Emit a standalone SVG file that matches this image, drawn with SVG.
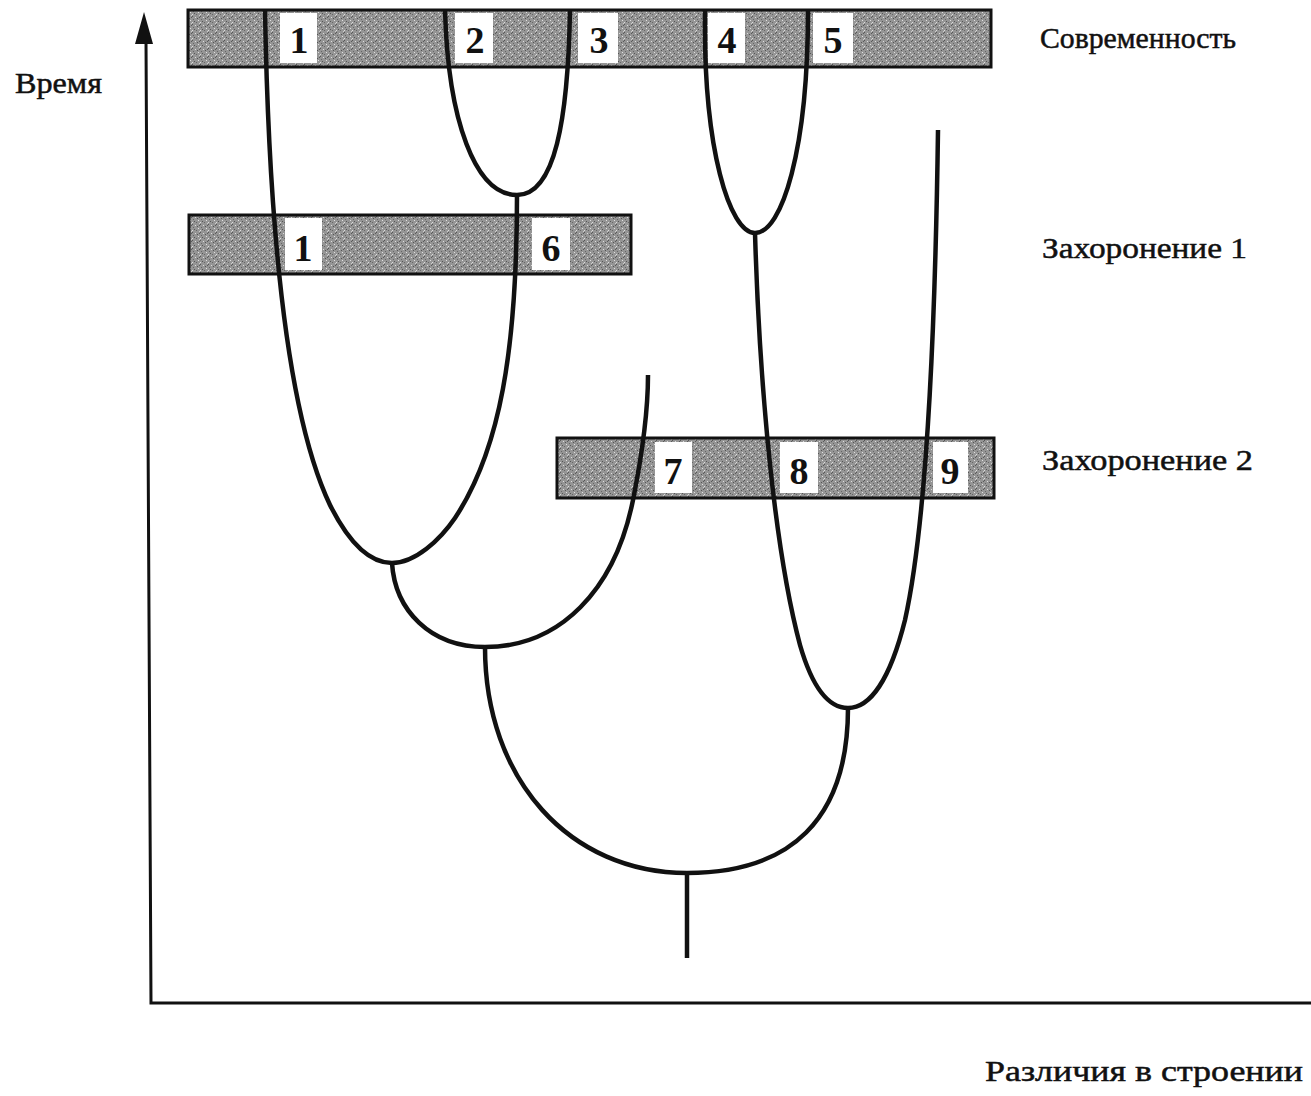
<svg xmlns="http://www.w3.org/2000/svg" width="1311" height="1096" viewBox="0 0 1311 1096">
<style>
.band{fill:url(#stip);stroke:#111;stroke-width:3}
.box{fill:#fff;stroke:none}
.num{font-family:"Liberation Serif",serif;font-weight:bold;font-size:38px;fill:#111;text-anchor:middle}
.lbl{font-family:"Liberation Serif",serif;font-size:30px;fill:#111;stroke:#111;stroke-width:0.5}
.ln{fill:none;stroke:#111;stroke-width:4.5;stroke-linecap:butt}
.ax{fill:none;stroke:#111;stroke-width:3}
</style>
<defs>
<pattern id="stip" width="8" height="8" patternUnits="userSpaceOnUse">
<rect width="8" height="8" fill="#959595"/>
<rect x="0" y="0" width="1" height="1" fill="#555"/>
<rect x="3" y="1" width="1" height="1" fill="#ddd"/>
<rect x="5" y="2" width="1" height="1" fill="#555"/>
<rect x="1" y="3" width="1" height="1" fill="#666"/>
<rect x="6" y="4" width="1" height="1" fill="#e0e0e0"/>
<rect x="2" y="5" width="1" height="1" fill="#555"/>
<rect x="4" y="6" width="1" height="1" fill="#666"/>
<rect x="7" y="7" width="1" height="1" fill="#ccc"/>
<rect x="0" y="6" width="1" height="1" fill="#ddd"/>
<rect x="7" y="1" width="1" height="1" fill="#5a5a5a"/>
</pattern>
</defs>

<g id="axes">
<path class="ax" d="M146 40 L151 1003 L1311 1003"/>
<path d="M144 12 L153 44 L135 44 Z" fill="#111"/>
<text class="lbl" x="15" y="93" textLength="87" lengthAdjust="spacingAndGlyphs">Время</text>
<text class="lbl" x="985" y="1081" textLength="318" lengthAdjust="spacingAndGlyphs">Различия в строении</text>
</g>

<g id="band-modern">
<rect class="band" x="188" y="10" width="803" height="57"/>
<rect class="box" x="280" y="13" width="37" height="50"/>
<rect class="box" x="455" y="13" width="38" height="50"/>
<rect class="box" x="578" y="13" width="40" height="50"/>
<rect class="box" x="708" y="13" width="37" height="50"/>
<rect class="box" x="813" y="13" width="40" height="50"/>
<text class="num" x="299" y="53">1</text>
<text class="num" x="475" y="53">2</text>
<text class="num" x="599" y="53">3</text>
<text class="num" x="727" y="53">4</text>
<text class="num" x="833" y="53">5</text>
<text class="lbl" x="1040" y="48" textLength="196" lengthAdjust="spacingAndGlyphs">Современность</text>
</g>

<g id="band-burial1">
<rect class="band" x="189" y="215" width="442" height="59"/>
<rect class="box" x="285" y="218" width="37" height="52"/>
<rect class="box" x="532" y="218" width="38" height="52"/>
<text class="num" x="303" y="261">1</text>
<text class="num" x="551" y="261">6</text>
<text class="lbl" x="1042" y="258" textLength="205" lengthAdjust="spacingAndGlyphs">Захоронение 1</text>
</g>

<g id="band-burial2">
<rect class="band" x="557" y="438" width="437" height="60"/>
<rect class="box" x="655" y="442" width="37" height="51"/>
<rect class="box" x="780" y="442" width="38" height="51"/>
<rect class="box" x="933" y="442" width="35" height="51"/>
<text class="num" x="673" y="484">7</text>
<text class="num" x="799" y="484">8</text>
<text class="num" x="950" y="484">9</text>
<text class="lbl" x="1042" y="470" textLength="211" lengthAdjust="spacingAndGlyphs">Захоронение 2</text>
</g>

<g id="connectors">
<path class="ln" d="M445 10 C448 120 475 195 517 195 C555 195 568 120 570 10"/>
<path class="ln" d="M705 10 C703 150 730 233 755 233 C782 233 808 150 808 10"/>
<path class="ln" d="M265 10 C268 180 280 400 330 505 C350 545 370 563 392 563"/>
<path class="ln" d="M392 563 C415 563 440 540 455 518 C500 450 517 350 517 195"/>
<path class="ln" d="M392 563 C395 610 430 647 485 647"/>
<path class="ln" d="M485 647 C560 647 615 590 633 500 C643 450 648 410 648 375"/>
<path class="ln" d="M485 647 C485 780 570 873 687 873 C790 873 848 820 848 708"/>
<path class="ln" d="M687 873 L687 958"/>
<path class="ln" d="M755 233 C760 400 776 555 800 645 C813 690 830 708 848 708"/>
<path class="ln" d="M848 708 C870 708 890 680 905 620 C925 530 935 350 938 130"/>
</g>
</svg>
